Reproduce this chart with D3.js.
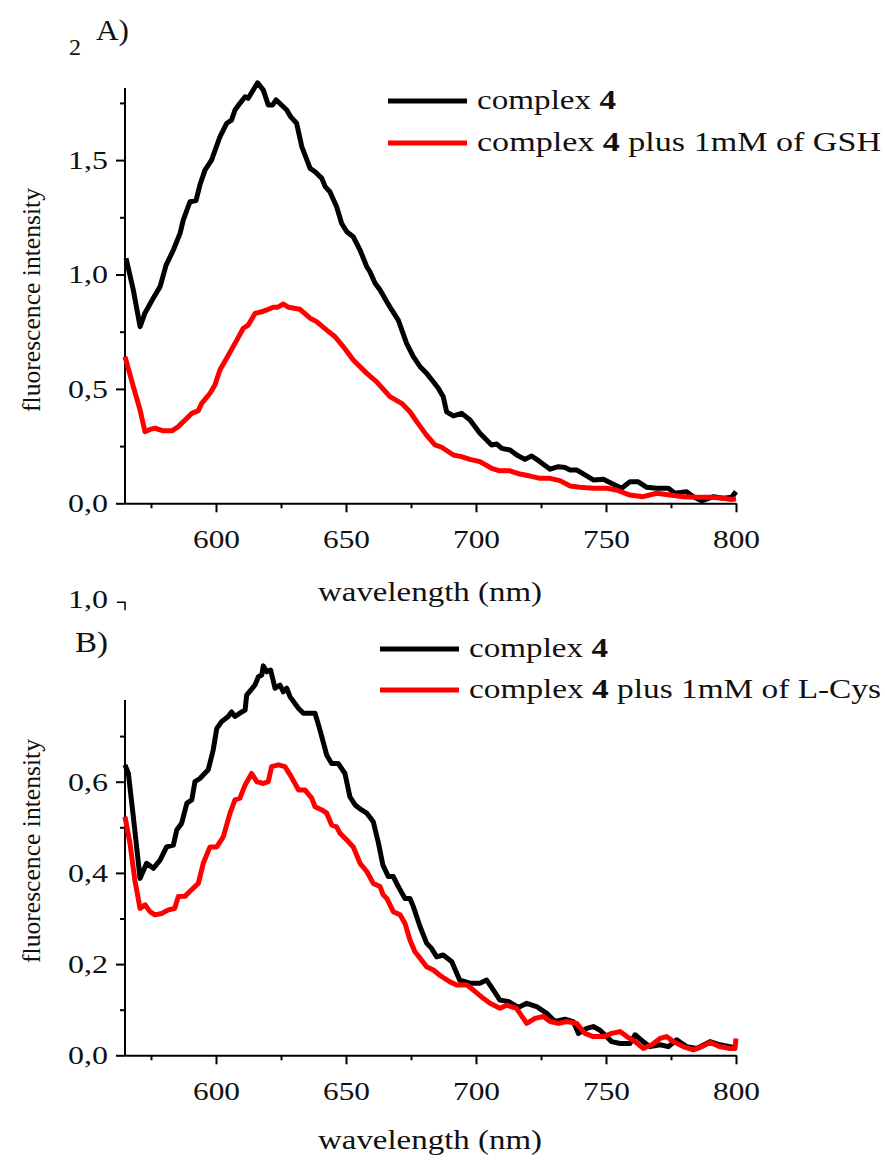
<!DOCTYPE html>
<html>
<head>
<meta charset="utf-8">
<script src="https://cdn.jsdelivr.net/npm/d3@7"></script>
<style>
  body { margin: 0; background: #fff; }
  svg text { font-family: "Liberation Serif", "DejaVu Serif", serif; fill: #111; }
  .axis path, .axis line { stroke: #000; stroke-width: 2; }
  .axis text { font-size: 26px; font-family: "Liberation Serif", serif; fill: #111; }
  .axis-label { font-size: 27px; }
  .y-label { font-size: 26px; }
</style>
</head>
<body>
<svg id="chart"></svg>
<script>

// ---- data ----
// panel A: complex 4 (black)
const complexA_wl = [565.4,568.2,570.8,572.7,575.9,578.5,580.8,583.6,586.2,587.4,590,592.3,593.8,595.8,598.3,601.5,604.1,606,607.3,609.2,611.2,612.4,614.3,616,618.2,620.1,621.8,623.1,625.9,627.2,628.7,631,633,636.2,638.1,640.7,642,643.8,646.4,648.3,650.3,652.8,655.4,658,659.2,661.2,663.1,665.7,667.6,670.1,673.3,675.9,678.5,681,683.6,685.5,687.4,688.7,691.3,694.5,697.7,701.5,706,708,709.9,713.1,715.7,718.8,721.4,724.6,728.5,731.7,734.2,736.2,738.7,741.9,745.1,749,752.2,756,759.2,762.4,765.7,769.5,774,776.5,781,783.6,786.8,791.3,795.1,798.3,800];
const complexA_int = [1.071,0.932,0.772,0.832,0.897,0.947,1.041,1.107,1.181,1.238,1.318,1.323,1.391,1.457,1.5,1.602,1.661,1.675,1.719,1.748,1.777,1.77,1.806,1.838,1.806,1.741,1.741,1.763,1.733,1.719,1.69,1.661,1.559,1.464,1.449,1.42,1.384,1.362,1.296,1.224,1.187,1.165,1.107,1.034,1.012,0.962,0.932,0.881,0.845,0.801,0.699,0.641,0.597,0.568,0.531,0.503,0.466,0.4,0.382,0.393,0.364,0.306,0.255,0.259,0.24,0.233,0.211,0.192,0.207,0.182,0.149,0.16,0.157,0.146,0.146,0.124,0.102,0.105,0.087,0.066,0.094,0.094,0.07,0.066,0.066,0.044,0.051,0.029,0.011,0.029,0.022,0.026,0.051];

// panel A: complex 4 + GSH (red)
const gsh_wl = [565,568.2,570.8,572.7,574.6,576.5,579.7,583,585.5,588.1,590.7,593.2,594.5,597.7,599.6,601.5,604.1,607.3,610.5,612.4,615,617.6,619.5,622,623.8,625.9,627.8,632.3,636.2,638.7,642.6,645.8,649,652.8,658,661.8,666.9,671.4,674.6,677.2,680.9,684.2,686.8,691.3,694.4,697.7,701.5,706,709.2,713.1,716.9,720.8,724.6,728.5,732.3,736.2,740,745.1,750.3,754.1,759.2,764.3,769.5,774.6,779.7,784.9,790,795.1,798.3,800];
const gsh_int = [0.641,0.51,0.408,0.313,0.323,0.328,0.317,0.317,0.335,0.364,0.393,0.405,0.437,0.481,0.517,0.583,0.634,0.699,0.765,0.779,0.83,0.837,0.845,0.857,0.857,0.871,0.857,0.848,0.809,0.794,0.757,0.728,0.684,0.626,0.568,0.531,0.466,0.437,0.4,0.357,0.299,0.255,0.245,0.211,0.204,0.192,0.182,0.153,0.142,0.142,0.128,0.119,0.109,0.109,0.099,0.076,0.07,0.066,0.066,0.058,0.036,0.029,0.044,0.036,0.029,0.026,0.026,0.022,0.017,0.02];

// panel B: complex 4 (black)
const complexB_wl = [565,566.3,568.2,570.8,573.3,575.9,578.5,581,583.6,584.9,586.8,588.8,590.7,591.9,593.8,597,598.9,600.3,602.2,604.7,606,607.3,609.9,611.2,611.8,613.7,615,616.3,617.6,618.2,619.5,621,622.7,624.6,625.9,627.2,628.5,631.7,633.6,635.4,638.1,640,642.6,644.5,647,649.6,651.5,653.5,656,658,660.5,662.5,664.2,666.3,668.2,670.1,672.7,674.6,675.9,678.5,681,682.8,684.9,687.4,690.7,693.7,697.7,701.5,704.1,706.7,709.2,712.4,716.3,719.5,723.3,727.2,730.4,734.2,737.4,739.4,742.6,745.1,747.7,752.2,755.4,759.2,761.2,764.3,766.9,770.8,774,777.2,781,784.9,790,793.8,797.7,800];
const complexB_int = [0.637,0.618,0.523,0.388,0.421,0.41,0.428,0.457,0.461,0.494,0.509,0.553,0.56,0.6,0.607,0.626,0.669,0.717,0.732,0.743,0.753,0.743,0.753,0.757,0.79,0.803,0.812,0.83,0.834,0.854,0.841,0.845,0.805,0.812,0.797,0.805,0.786,0.761,0.75,0.75,0.75,0.713,0.658,0.64,0.64,0.618,0.567,0.549,0.538,0.531,0.512,0.465,0.417,0.392,0.392,0.37,0.344,0.344,0.326,0.282,0.246,0.235,0.216,0.22,0.205,0.165,0.158,0.158,0.165,0.143,0.121,0.118,0.105,0.114,0.107,0.092,0.074,0.079,0.074,0.048,0.059,0.063,0.055,0.03,0.026,0.026,0.045,0.03,0.019,0.023,0.019,0.034,0.019,0.015,0.03,0.023,0.019,0.015];

// panel B: complex 4 + L-Cys (red)
const cys_wl = [565,566.9,568.8,570.8,572.7,574.6,576.5,579.1,581.7,584.1,585.5,588.1,590.6,593.2,595.1,597.7,600.3,602.8,605.4,607.3,609.2,611.2,613.7,615.7,618.2,620.1,621.4,624,626.5,628.5,630.4,631.7,634.2,636.8,638.1,640.7,642.6,644.5,646.4,647.7,650.3,652.8,655.4,658,660.5,663.1,664.3,665.7,668.2,670.8,672.7,674.6,676.5,678.5,681,683.6,686.2,690,692.6,696.5,699,702.8,705.4,709.2,711.8,715.6,719.5,722.7,725.9,728.5,731.7,734.9,738.7,741.9,745.1,749,752.2,755.4,758,761.2,764.3,767.6,770.8,773.3,775.9,779.7,783.6,786.8,790,793.8,797.7,799.6,800];
const cys_int = [0.523,0.465,0.384,0.322,0.33,0.315,0.308,0.311,0.319,0.322,0.348,0.349,0.363,0.377,0.421,0.457,0.457,0.479,0.531,0.56,0.564,0.593,0.618,0.6,0.596,0.6,0.633,0.637,0.633,0.615,0.596,0.582,0.582,0.564,0.545,0.538,0.531,0.505,0.501,0.487,0.472,0.457,0.421,0.403,0.377,0.37,0.352,0.344,0.315,0.308,0.289,0.253,0.227,0.213,0.194,0.187,0.175,0.161,0.154,0.154,0.143,0.125,0.114,0.103,0.11,0.103,0.07,0.081,0.085,0.074,0.07,0.074,0.07,0.048,0.041,0.041,0.048,0.052,0.041,0.03,0.015,0.023,0.037,0.041,0.03,0.019,0.012,0.019,0.028,0.019,0.015,0.015,0.037];

const xTicks = [600, 650, 700, 750, 800];
const xMinorTicks = [575, 625, 675, 725, 775];
const yTicksA = [0, 0.5, 1, 1.5];
const yMinorA = [0.25, 0.75, 1.25, 1.75];
const yTicksB = [0, 0.2, 0.4, 0.6];
const yMinorB = [0.1, 0.3, 0.5, 0.7];

const legendA = ['complex ', '4', ' plus 1mM of GSH'];
const legendB = ['complex ', '4', ' plus 1mM of L-Cys'];

const W = 885, H = 1160;
const svg = d3.select('#chart').attr('width', W).attr('height', H);

const fmt = d => d3.format('.1f')(d).replace('.', ',');

class SpectrumPanel {

  constructor(_config, _series) {
    this.config = _config;
    this.series = _series;
    this.initVis();
  }

  initVis() {
    let vis = this;
    let c = vis.config;

    vis.x = d3.scaleLinear().domain([565, 800]).range([c.left, c.left + c.width]);
    vis.y = d3.scaleLinear().domain([0, c.yMax]).range([c.bottom, c.top]);

    vis.g = svg.append('g');

    // x axis (major + minor)
    vis.g.append('g')
      .attr('class', 'axis x-axis')
      .attr('transform', `translate(0,${c.bottom})`)
      .call(d3.axisBottom(vis.x).tickValues(xTicks).tickSize(9).tickSizeOuter(0).tickPadding(12))
      .selectAll('text')
        .attr('dy', '0.9em')
        .attr('textLength', 47).attr('lengthAdjust', 'spacingAndGlyphs');

    vis.g.append('g')
      .attr('class', 'axis x-axis')
      .attr('transform', `translate(0,${c.bottom})`)
      .call(d3.axisBottom(vis.x).tickValues(xMinorTicks).tickSize(5).tickFormat(''))
      .select('.domain').remove();

    // y axis: own line, the plotted axis stops below yMax
    vis.yAxisG = vis.g.append('g')
      .attr('class', 'axis y-axis')
      .attr('transform', `translate(${c.left},0)`)
      .call(d3.axisLeft(vis.y).tickValues(c.yTicks).tickSize(9).tickPadding(8).tickFormat(fmt));
    vis.yAxisG.select('.domain').remove();
    vis.yAxisG.selectAll('text')
      .attr('textLength', 40).attr('lengthAdjust', 'spacingAndGlyphs');

    vis.g.append('g')
      .attr('class', 'axis y-axis')
      .attr('transform', `translate(${c.left},0)`)
      .call(d3.axisLeft(vis.y).tickValues(c.yMinor).tickSize(5).tickFormat(''))
      .select('.domain').remove();

    vis.g.append('line')
      .attr('x1', c.left).attr('x2', c.left)
      .attr('y1', vis.y(0) + 1).attr('y2', vis.y(c.axisTop))
      .attr('stroke', '#000').attr('stroke-width', 2);

    // axis titles
    vis.g.append('text')
      .attr('class', 'axis-label')
      .attr('x', 318).attr('y', c.xLabelY)
      .attr('textLength', 224).attr('lengthAdjust', 'spacingAndGlyphs')
      .text('wavelength (nm)');

    vis.g.append('text')
      .attr('class', 'y-label')
      .attr('transform', `translate(40,${c.yLabelMid}) rotate(-90)`)
      .attr('text-anchor', 'middle')
      .attr('textLength', 224).attr('lengthAdjust', 'spacingAndGlyphs')
      .text('fluorescence intensity');

    // panel letter
    vis.g.append('text')
      .attr('x', c.letterX).attr('y', c.letterY)
      .attr('textLength', 33).attr('lengthAdjust', 'spacingAndGlyphs')
      .style('font-size', '29px')
      .text(c.letter);

    vis.updateVis();
  }

  updateVis() {
    let vis = this;

    let line = d3.line()
      .x(d => vis.x(d[0]))
      .y(d => vis.y(d[1]));

    vis.series.forEach(s => {
      let pts = s.wl.map((w, i) => [w, s.int[i]]);
      vis.g.append('path')
        .datum(pts)
        .attr('fill', 'none')
        .attr('stroke', s.color)
        .attr('stroke-width', 5)
        .attr('stroke-linejoin', 'round')
        .attr('d', line);
    });

    vis.renderLegend();
  }

  renderLegend() {
    let vis = this;
    let c = vis.config;

    vis.series.forEach((s, i) => {
      let ly = c.legendY + i * c.legendGap;
      vis.g.append('line')
        .attr('x1', c.legendX).attr('x2', c.legendX + 79)
        .attr('y1', ly).attr('y2', ly)
        .attr('stroke', s.color).attr('stroke-width', 5);

      let t = vis.g.append('text')
        .attr('x', c.legendX + 89).attr('y', ly + 8)
        .style('font-size', '27px')
        .attr('textLength', s.legendLen).attr('lengthAdjust', 'spacingAndGlyphs');
      s.label.forEach((part, k) => {
        t.append('tspan').style('font-weight', k === 1 ? 'bold' : 'normal').text(part);
      });
    });
  }
}

// panel A
const panelA = new SpectrumPanel({
  left: 125, width: 611, top: 45.7, bottom: 503.3, yMax: 2,
  yTicks: yTicksA, yMinor: yMinorA, axisTop: 1.815,
  xLabelY: 601, yLabelMid: 300,
  letter: 'A)', letterX: 96, letterY: 40,
  legendX: 388, legendY: 101, legendGap: 42
}, [
  { wl: complexA_wl, int: complexA_int, color: '#000', label: ['complex ', '4'], legendLen: 139 },
  { wl: gsh_wl, int: gsh_int, color: '#ff0000', label: legendA, legendLen: 404 }
]);

// stray clipped "2" of the cut-off top tick label
svg.append('text')
  .attr('x', 69).attr('y', panelA.y(2) + 9)
  .style('font-size', '24px')
  .text('2');

// panel B
const panelB = new SpectrumPanel({
  left: 125, width: 611, top: 599.3, bottom: 1055.3, yMax: 1,
  yTicks: yTicksB, yMinor: yMinorB, axisTop: 0.779,
  xLabelY: 1149, yLabelMid: 851,
  letter: 'B)', letterX: 75, letterY: 652,
  legendX: 380, legendY: 649, legendGap: 41
}, [
  { wl: complexB_wl, int: complexB_int, color: '#000', label: ['complex ', '4'], legendLen: 139 },
  { wl: cys_wl, int: cys_int, color: '#ff0000', label: legendB, legendLen: 412 }
]);

// stranded "1,0" tick at top of panel B
svg.append('text')
  .attr('x', 108).attr('y', panelB.y(1) + 9)
  .attr('text-anchor', 'end')
  .attr('textLength', 40).attr('lengthAdjust', 'spacingAndGlyphs')
  .style('font-size', '26px')
  .text(fmt(1));
svg.append('path')
  .attr('d', `M117,${panelB.y(1) + 3}H125V${panelB.y(1) + 11}`)
  .attr('fill', 'none').attr('stroke', '#000').attr('stroke-width', 1.5);

</script>
</body>
</html>
